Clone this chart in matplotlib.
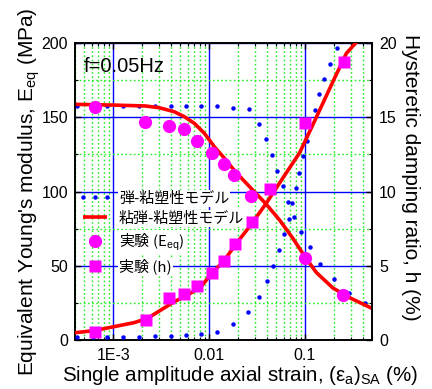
import matplotlib
matplotlib.use('Agg')
import matplotlib.pyplot as plt
from matplotlib.ticker import FixedLocator, FixedFormatter, LogLocator, NullFormatter, MultipleLocator
from matplotlib.legend_handler import HandlerLine2D

plt.rcParams['font.family'] = ['Liberation Sans', 'Noto Sans CJK JP', 'DejaVu Sans']
plt.rcParams['mathtext.fontset'] = 'custom'
plt.rcParams['mathtext.rm'] = 'Liberation Sans'
plt.rcParams['mathtext.it'] = 'Liberation Sans:italic'

# ---------------- data ----------------
# elasto-plastic model (blue dots)
model_E_strain = [4.18e-4, 6.18e-4, 8.72e-4, 1.28e-3, 1.88e-3, 2.70e-3, 3.97e-3, 5.75e-3,
                  8.31e-3, 0.0122, 0.0176, 0.0259, 0.0330, 0.0390, 0.0448, 0.0509, 0.0587,
                  0.0669, 0.0766, 0.0899, 0.1125, 0.1431, 0.200, 0.289, 0.423]
model_E = [157.8, 157.8, 157.8, 157.8, 157.8, 157.8, 157.8, 157.8, 157.8, 157.6, 156.4,
           155.6, 145.7, 135.2, 124.8, 114.0, 103.7, 93.1, 82.6, 72.7, 62.6, 51.4, 40.9,
           31.9, 24.6]
model_h_strain = [4.18e-4, 6.18e-4, 8.72e-4, 1.28e-3, 1.88e-3, 2.70e-3, 3.97e-3, 5.75e-3,
                  8.31e-3, 0.0122, 0.0176, 0.0255, 0.0333, 0.0400, 0.0459, 0.0530, 0.0602,
                  0.0679, 0.0730, 0.0798, 0.0864, 0.0951, 0.1047, 0.1136, 0.1269, 0.1397,
                  0.1591, 0.1808, 0.2175]
model_h = [0.22, 0.22, 0.22, 0.22, 0.22, 0.25, 0.27, 0.32, 0.38, 0.57, 1.10, 1.87, 2.92,
           3.95, 5.00, 6.06, 7.12, 8.15, 9.21, 10.24, 11.27, 12.39, 13.40, 14.43, 15.47,
           16.55, 17.58, 18.61, 19.68]

# visco-elasto-viscoplastic model (red lines)
fit_E_strain = [4.0e-4, 1.0e-3, 2.16e-3, 3.03e-3, 4.34e-3, 5.52e-3, 7.02e-3, 8.93e-3,
                0.0114, 0.0145, 0.0176, 0.0207, 0.0285, 0.0388, 0.0543, 0.0747, 0.0990,
                0.1312, 0.1957, 0.2924, 0.5]
fit_E = [158.7, 158.2, 157.6, 156.4, 153.7, 150.4, 145.9, 139.2, 130.0, 122.3, 115.6,
         110.5, 101.0, 92.0, 80.8, 68.5, 56.5, 45.5, 35.0, 28.5, 21.3]
fit_h_strain = [4.0e-4, 6.33e-4, 1.024e-3, 1.657e-3, 2.28e-3, 3.15e-3, 4.34e-3, 5.97e-3,
                8.25e-3, 0.0107, 0.0142, 0.0187, 0.0264, 0.0394, 0.0587, 0.0878, 0.123,
                0.1957, 0.270, 0.372, 0.5]
fit_h = [0.49, 0.63, 0.90, 1.17, 1.46, 2.02, 2.58, 3.03, 3.59, 4.5, 5.3, 6.4, 7.63, 9.2,
         10.9, 12.6, 14.6, 17.4, 19.3, 20.3, 20.1]

# experiments (magenta)
exp_E_strain = [6.5e-4, 2.16e-3, 3.78e-3, 5.43e-3, 7.55e-3, 0.0107, 0.0142, 0.0184,
                0.0275, 0.099, 0.249]
exp_E = [157.1, 147.0, 144.3, 141.9, 134.0, 125.7, 118.5, 110.9, 97.0, 55.4, 30.3]
exp_h_strain = [6.44e-4, 2.21e-3, 3.82e-3, 5.52e-3, 7.55e-3, 0.0107, 0.0142, 0.0187,
                0.0281, 0.0434, 0.100, 0.253]
exp_h = [0.54, 1.32, 2.85, 3.10, 3.66, 4.49, 5.32, 6.44, 7.97, 10.2, 14.6, 18.7]

xtick_values = [1e-3, 1e-2, 1e-1]
xtick_labels = ['1E-3', '0.01', '0.1']
labels = ['弾-粘塑性モデル', '粘弾-粘塑性モデル', '実験 (E$_{\\rm eq}$)', '実験 (h)']

# ---------------- figure ----------------
W, H = 432, 389
fig = plt.figure(figsize=(W / 100, H / 100), dpi=100)
L, R, T, B = 75, 372, 43, 340
ax = fig.add_axes([L / W, 1 - B / H, (R - L) / W, (B - T) / H])
ax2 = ax.twinx()

ax.set_xscale('log')
ax.set_xlim(4e-4, 0.5)
ax.set_ylim(0, 200)
ax2.set_ylim(0, 20)

# grid
ax.xaxis.set_major_locator(FixedLocator(xtick_values))
ax.xaxis.set_major_formatter(FixedFormatter(xtick_labels))
ax.xaxis.set_minor_locator(LogLocator(base=10, subs=[2, 3, 4, 5, 6, 7, 8, 9], numticks=20))
ax.xaxis.set_minor_formatter(NullFormatter())
ax.yaxis.set_major_locator(MultipleLocator(50))
ax.yaxis.set_minor_locator(MultipleLocator(25))
ax2.yaxis.set_major_locator(MultipleLocator(5))
ax2.yaxis.set_minor_locator(MultipleLocator(2.5))
ax.set_axisbelow(True)
ax.grid(which='minor', color='#22ee22', ls=(0, (1.2, 1.8)), lw=1.0)
ax.grid(which='major', color='#0000ff', ls='-', lw=1.0)

ax.tick_params(which='both', direction='in', top=True, right=False, labelsize=11.5,
               colors='black')
ax.tick_params(which='major', length=4, width=1, pad=5)
ax.tick_params(which='minor', length=2.5, width=0.8)
ax.tick_params(axis='x', which='major', pad=5.5)
ax2.tick_params(which='both', direction='in', labelsize=11.5)
ax2.tick_params(which='major', length=4, width=1, pad=5)
ax2.tick_params(which='minor', length=2.5, width=0.8)
for a in (ax, ax2):
    for s in a.spines.values():
        s.set_linewidth(1.2)

# plot
h1, = ax.plot(model_E_strain, model_E, ls='none', marker='o', ms=3.2, color='#0000ff',
              mec='none', zorder=3)
ax2.plot(model_h_strain, model_h, ls='none', marker='o', ms=3.2, color='#0000ff',
         mec='none', zorder=3)
h2, = ax.plot(fit_E_strain, fit_E, color='#ff0000', lw=2.6, zorder=4,
              solid_capstyle='butt')
ax2.plot(fit_h_strain, fit_h, color='#ff0000', lw=2.6, zorder=4, solid_capstyle='butt')
h3, = ax.plot(exp_E_strain, exp_E, ls='none', marker='o', ms=9.5, color='#ff00ff',
              mec='none', zorder=5)
h4, = ax2.plot(exp_h_strain, exp_h, ls='none', marker='s', ms=8.3, color='#ff00ff',
               mec='none', zorder=5)

ax.text(0.03, 0.922, 'f=0.05Hz', transform=ax.transAxes, fontsize=14.5,
        va='center', ha='left')

leg = ax2.legend([h1, h2, h3, h4], labels, loc='upper left',
                 bbox_to_anchor=(0.012, 0.50), frameon=False, fontsize=10.8,
                 handlelength=2.2, handletextpad=0.5, labelspacing=0.4,
                 borderaxespad=0, borderpad=0,
                 handler_map={h1: HandlerLine2D(numpoints=3),
                              h2: HandlerLine2D(numpoints=2),
                              h3: HandlerLine2D(numpoints=1),
                              h4: HandlerLine2D(numpoints=1)})
for t in leg.get_texts():
    t.set_fontfamily(['Noto Sans CJK JP'])
    t.set_bbox(dict(facecolor='white', edgecolor='none', pad=0.8))
leg.set_zorder(10)

ax.set_xlabel('Single amplitude axial strain, (ε$_{\\rm a}$)$_{\\rm SA}$ (%)',
              fontsize=14.8, labelpad=1, x=0.556)
ax.set_ylabel('Equivalent Young\'s modulus, E$_{\\rm eq}$ (MPa)', fontsize=15)
ax.yaxis.set_label_coords(-0.112, 0.5)
ax2.set_ylabel('Hysteretic damping ratio, h (%)', fontsize=15, rotation=270,
               labelpad=17, y=0.547)

fig.savefig('out.png', dpi=100)
